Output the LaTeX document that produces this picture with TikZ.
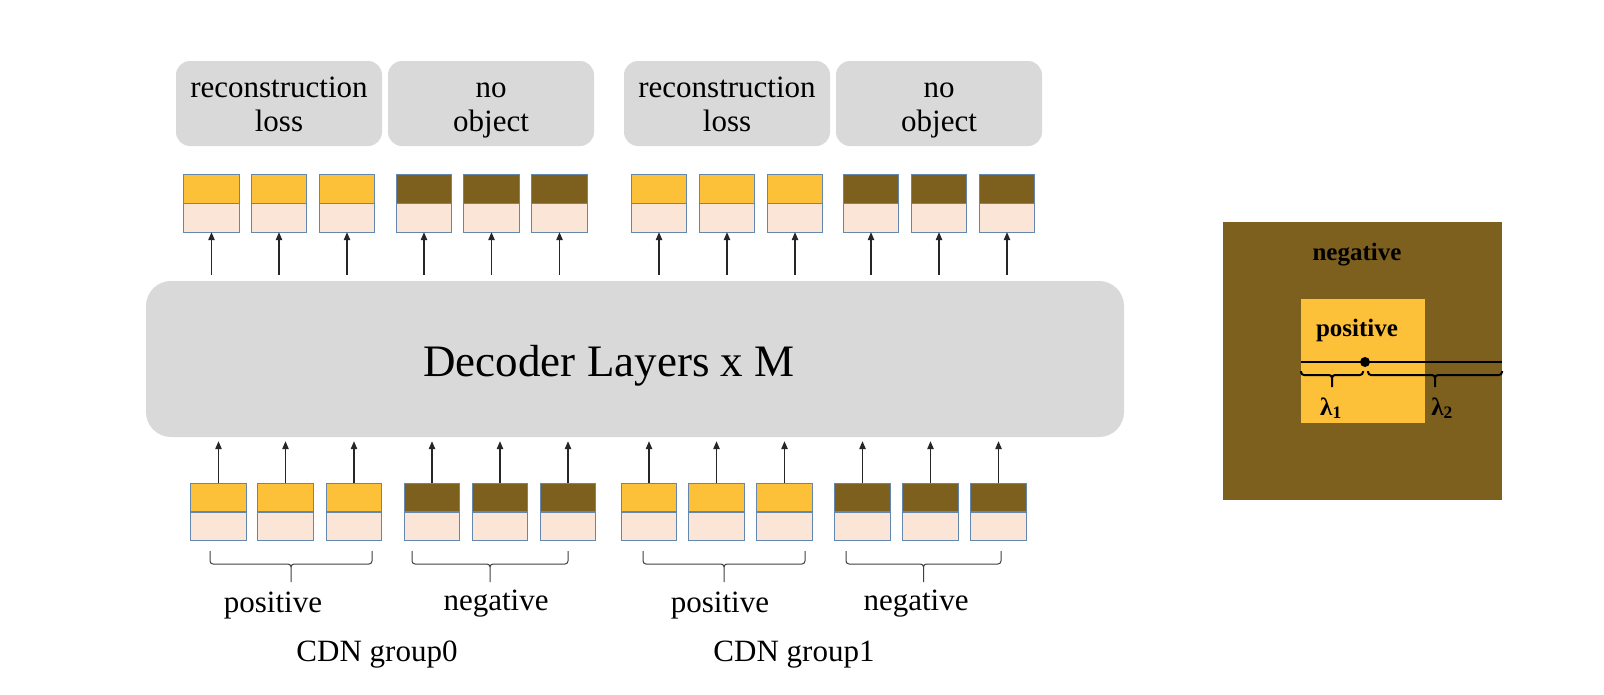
\documentclass[tikz,border=0pt]{standalone}
\usepackage{fontspec}
\setmainfont{Liberation Serif}
\usetikzlibrary{arrows.meta,calc}
\definecolor{cyel}{RGB}{252,193,56}
\definecolor{cbrown}{RGB}{125,95,30}
\definecolor{cpink}{RGB}{251,229,214}
\definecolor{cgray}{RGB}{217,217,217}
\definecolor{cborder}{RGB}{100,135,175}
\newcommand\qnode[4]{%
  \node[qbox] (#1) at (#2,#3) {};
  \fill[#4] (#1.north west) rectangle (#1.east);
  \draw[qline] (#1.north west) rectangle (#1.south east);
  \draw[qline] (#1.west) -- (#1.east);
}
% x1 x2 ytop yline ytip style
\newcommand\cbrace[6]{%
  \pgfmathsetmacro\bxc{(#1+#2)/2}%
  \draw[#6] (#1,#3) -- (#1,{#4-3}) to[out=-90,in=180] ({#1+3},#4) -- ({\bxc-3},#4)
     to[out=0,in=90] (\bxc,{#4+3}) -- (\bxc,#5)
     (\bxc,{#4+3}) to[out=90,in=180] ({\bxc+3},#4) -- ({#2-3},#4)
     to[out=0,in=-90] (#2,{#4-3}) -- (#2,#3);
}
\begin{document}
\begin{tikzpicture}[x=1pt,y=-1pt,
  qbox/.style={fill=cpink, minimum width=55pt, minimum height=57pt, inner sep=0pt},
  qline/.style={draw=cborder, line width=1.2pt},
  lossbox/.style={fill=cgray, rounded corners=14pt, minimum width=206pt, minimum height=85pt, inner sep=0pt},
  losstxt/.style={font=\fontsize{31}{34}\selectfont, align=center, inner sep=0pt},
  lbl/.style={font=\fontsize{31}{34}\selectfont, inner sep=0pt, anchor=base},
  blbl/.style={font=\fontsize{25}{28}\selectfont\bfseries, inner sep=0pt, anchor=base},
  arr/.style={-{Triangle[length=8pt,width=6.5pt]}, line width=1.1pt, draw=black!85},
  brc/.style={draw=black!75, line width=1pt},
  rbrc/.style={draw=black, line width=2pt}
]
\fill[white] (0,0) rectangle (1604,694);
\useasboundingbox (0,0) rectangle (1604,694);

% decoder
\node[fill=cgray, rounded corners=25pt, minimum width=978pt, minimum height=156pt, inner sep=0pt] (dec) at (635,359) {};
\node[lbl, font=\fontsize{45}{50}\selectfont] (dectxt) at (609,376) {Decoder Layers x M};

% loss boxes
\foreach \x/\t [count=\i] in {279/{reconstruction\vphantom{bj}\\loss\vphantom{bj}},491/{no\vphantom{bj}\\object\vphantom{bj}},727/{reconstruction\vphantom{bj}\\loss\vphantom{bj}},939/{no\vphantom{bj}\\object\vphantom{bj}}}{
  \node[lossbox] (lb\i) at (\x,103.5) {};
  \node[losstxt, yshift=-3.5pt] (lt\i) at (lb\i.center) {\t};
}

% top queries
\foreach \x/\c [count=\i] in {211.5/cyel,279/cyel,347/cyel,424/cbrown,491.5/cbrown,559.5/cbrown,659/cyel,727/cyel,795/cyel,871/cbrown,939/cbrown,1007/cbrown}{
  \qnode{tq\i}{\x}{203.5}{\c}
  \draw[arr, shorten <=6pt] (tq\i.south |- dec.north) -- (tq\i.south);
}
% bottom queries
\foreach \x/\c [count=\i] in {218.5/cyel,285.5/cyel,354/cyel,432/cbrown,500/cbrown,568/cbrown,649/cyel,716.5/cyel,784.5/cyel,862.5/cbrown,930.5/cbrown,998.5/cbrown}{
  \qnode{bq\i}{\x}{512}{\c}
  \draw[arr, shorten >=4pt] (bq\i.north) -- (bq\i.north |- dec.south);
}

% braces
\cbrace{210}{372}{551}{564}{582}{brc}
\cbrace{412}{568}{551}{564}{582}{brc}
\cbrace{643}{805}{551}{564}{582}{brc}
\cbrace{846}{1001}{551}{564}{582}{brc}

% labels
\node[lbl] (p0) at (273,612) {positive};
\node[lbl] (n0) at (496,610) {negative};
\node[lbl] (p1) at (720,612) {positive};
\node[lbl] (n1) at (916,610) {negative};
\node[lbl] (g0) at (377,661) {CDN group0};
\node[lbl] (g1) at (794,661) {CDN group1};

% right panel
\node[fill=cbrown, minimum width=279pt, minimum height=278pt, inner sep=0pt] (outer) at (1362.5,361) {};
\node[fill=cyel, minimum width=124pt, minimum height=124pt, inner sep=0pt] (inner) at (1363,361) {};
\node[blbl] (negt) at (1357,260) {negative};
\node[blbl] (post) at (1357,336) {positive};
\coordinate (lstart) at (1301,362);
\coordinate (lend) at (1502,362);
\draw[line width=2pt] (lstart) -- (lend);
\node[circle, fill=black, minimum size=10pt, inner sep=0pt] (dot) at (1365,362) {};
\cbrace{1301}{1363}{371}{375}{387}{rbrc}
\cbrace{1368}{1502}{371}{375}{387}{rbrc}
\node[blbl] (l1) at (1331,415) {λ\textsubscript{1}};
\node[blbl] (l2) at (1442,415) {λ\textsubscript{2}};
\end{tikzpicture}
\end{document}
